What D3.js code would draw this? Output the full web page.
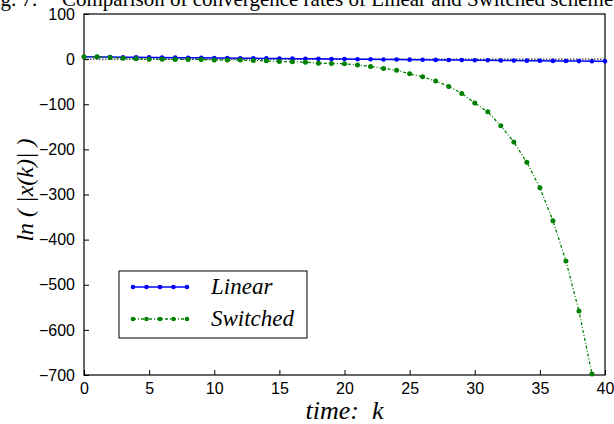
<!DOCTYPE html>
<html>
<head>
<meta charset="utf-8">
<script src="https://cdn.jsdelivr.net/npm/d3@7"></script>
<style>
  body { margin: 0; background: #fff; }
  .tick text { font-family: "Liberation Sans", Arial, sans-serif; font-size: 16px; fill: #000; }
</style>
</head>
<body>
<div id="chart"></div>
<script>
// SVG Dimensions
var svgWidth = 614;
var svgHeight = 424;

var margin = { top: 14, right: 9, bottom: 49, left: 84 };

var width = svgWidth - margin.left - margin.right;
var height = svgHeight - margin.top - margin.bottom;

// Data
var steps = d3.range(0, 41);
var linearVals = [5.0, 4.8, 4.5, 4.3, 4.0, 3.8, 3.6, 3.3, 3.1, 2.8, 2.6, 2.3, 2.1, 1.8, 1.6, 1.3, 1.1, 0.8, 0.6, 0.3, 0.1,
  -0.2, -0.4, -0.7, -0.9, -1.2, -1.4, -1.7, -1.9, -2.2, -2.4, -2.6, -2.9, -3.1, -3.4, -3.6, -3.9, -4.1, -4.4, -4.6, -4.9];
var switchedVals = [5.0, 5.0, 3.8, 2.2, 0.7, 0.0, 0.0, -0.7, -0.7, -0.7, -2.2, -2.2, -2.2, -2.9, -3.8, -5.1, -6.0, -6.8,
  -8.9, -9.8, -10.4, -13.0, -16.2, -20.6, -24.4, -32.6, -39.2, -48.7, -60.5, -76.0, -97.5, -116.7, -147.8, -183.9,
  -228.8, -285.0, -358.0, -447.5, -558.0, -698.0];
var xTicks = [0, 5, 10, 15, 20, 25, 30, 35, 40];
var yTicks = [100, 0, -100, -200, -300, -400, -500, -600, -700];
var seriesNames = ["Linear", "Switched"];
var seriesColors = ["#0000ff", "#008000"];

var serif = "'Liberation Serif', 'Times New Roman', serif";

var svg = d3.select("#chart")
  .append("svg")
  .attr("width", svgWidth)
  .attr("height", svgHeight);

// caption above the plot (cut at the edges like the scan)
svg.append("text")
  .attr("x", -17).attr("y", 6)
  .attr("font-family", serif)
  .attr("font-size", "21px")
  .text("Fig. 7.");
svg.append("text")
  .attr("x", 62).attr("y", 6)
  .attr("font-family", serif)
  .attr("font-size", "21px")
  .text("Comparison of convergence rates of Linear and Switched schemes");

var chartGroup = svg.append("g")
  .attr("transform", `translate(${margin.left}, ${margin.top})`);

var xScale = d3.scaleLinear().domain([0, 40]).range([0, width]);
var yScale = d3.scaleLinear().domain([-700, 100]).range([height, 0]);

// axes with inward ticks
var bottomAxis = d3.axisBottom(xScale).tickValues(xTicks).tickSize(-5).tickPadding(8);
var leftAxis = d3.axisLeft(yScale).tickValues(yTicks).tickSize(-5).tickPadding(9)
  .tickFormat(d => d < 0 ? "\u2212" + Math.abs(d) : d);

chartGroup.append("g")
  .attr("transform", `translate(0, ${height})`)
  .call(bottomAxis)
  .call(g => g.select(".domain").remove());
chartGroup.append("g")
  .call(leftAxis)
  .call(g => g.select(".domain").remove());

// box
chartGroup.append("rect")
  .attr("width", width).attr("height", height)
  .attr("fill", "none").attr("stroke", "#000").attr("stroke-width", 1.2);

// zero reference line
chartGroup.append("line")
  .attr("x1", 0).attr("x2", width)
  .attr("y1", yScale(0)).attr("y2", yScale(0))
  .attr("stroke", "#000").attr("stroke-width", 1)
  .attr("stroke-dasharray", "1.5,1.5");

var line = d3.line()
  .x((d, i) => xScale(steps[i]))
  .y(d => yScale(d));

// Linear series
chartGroup.append("path")
  .datum(linearVals)
  .attr("d", line)
  .attr("fill", "none")
  .attr("stroke", seriesColors[0])
  .attr("stroke-width", 1.5);
chartGroup.append("g").selectAll("circle")
  .data(linearVals)
  .enter()
  .append("circle")
  .attr("cx", (d, i) => xScale(steps[i]))
  .attr("cy", d => yScale(d))
  .attr("r", 2.3)
  .attr("fill", seriesColors[0]);

// Switched series
chartGroup.append("path")
  .datum(switchedVals)
  .attr("d", line)
  .attr("fill", "none")
  .attr("stroke", seriesColors[1])
  .attr("stroke-width", 1.3)
  .attr("stroke-dasharray", "3,2,1,2");
chartGroup.append("g").selectAll("circle")
  .data(switchedVals)
  .enter()
  .append("circle")
  .attr("cx", (d, i) => xScale(steps[i]))
  .attr("cy", d => yScale(d))
  .attr("r", 2.5)
  .attr("fill", seriesColors[1]);

// Legend
var legend = svg.append("g").attr("transform", "translate(119, 271)");
legend.append("rect")
  .attr("width", 188).attr("height", 67)
  .attr("fill", "#fff").attr("stroke", "#000").attr("stroke-width", 1);

seriesNames.forEach(function(name, i) {
  var ly = 16 + i * 32;
  legend.append("line")
    .attr("x1", 14).attr("x2", 68)
    .attr("y1", ly).attr("y2", ly)
    .attr("stroke", seriesColors[i])
    .attr("stroke-width", i === 0 ? 1.5 : 1.3)
    .attr("stroke-dasharray", i === 0 ? null : "3,2,1,2");
  legend.append("g").selectAll("circle")
    .data([14, 27.5, 41, 54.5, 68])
    .enter()
    .append("circle")
    .attr("cx", d => d)
    .attr("cy", ly)
    .attr("r", 2.3)
    .attr("fill", seriesColors[i]);
  legend.append("text")
    .attr("x", 92).attr("y", ly + 7)
    .attr("font-family", serif)
    .attr("font-style", "italic")
    .attr("font-size", "23px")
    .text(name);
});

// Axis labels
svg.append("text")
  .attr("transform", "translate(33, 190) rotate(-90)")
  .attr("text-anchor", "middle")
  .attr("font-family", serif)
  .attr("font-style", "italic")
  .attr("font-size", "24px")
  .attr("xml:space", "preserve")
  .text("ln ( |x(k)| )");

svg.append("text")
  .attr("x", margin.left + width / 2)
  .attr("y", 419)
  .attr("text-anchor", "middle")
  .attr("font-family", serif)
  .attr("font-style", "italic")
  .attr("font-size", "26px")
  .attr("xml:space", "preserve")
  .text("time:  k");
</script>
</body>
</html>
